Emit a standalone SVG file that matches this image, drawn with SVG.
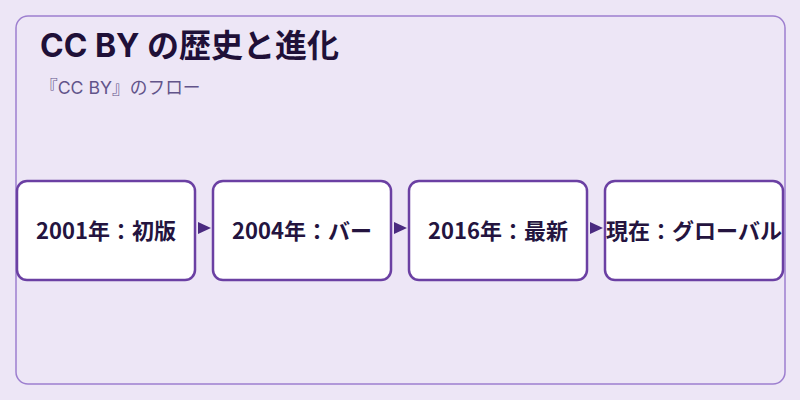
<svg xmlns="http://www.w3.org/2000/svg" width="800" height="400" viewBox="0 0 800 400">
<style>
.node rect{fill:#ffffff;stroke:#6b40a3;stroke-width:2.5}
.node text{font-family:"Noto Sans CJK JP","Noto Sans",sans-serif;font-size:22px;font-weight:700;fill:#24143f;text-anchor:middle}
.edge{stroke:#4a2a80;stroke-width:1;fill:none}
</style>
<defs>
<marker id="arr" viewBox="0 0 13 12" refX="13" refY="6" markerWidth="13" markerHeight="12" markerUnits="userSpaceOnUse" orient="auto">
<path d="M0,0 L13,6 L0,12 z" fill="#4a2a80"/>
</marker>
</defs>
<rect x="0" y="0" width="800" height="400" fill="#ede6f6"/>
<rect x="16" y="16" width="769" height="368" rx="12" fill="none" stroke="#9d7fcf" stroke-width="1.5"/>
<text x="40" y="57" font-family="Inter,'Noto Sans CJK JP',sans-serif" font-size="32" font-weight="700" fill="#1f1038">CC BY の歴史と進化</text>
<text x="40" y="94" font-family="Inter,'Noto Sans CJK JP',sans-serif" font-size="17.7" fill="#62548a">『CC BY』のフロー</text>
<g id="connectors">
<line class="edge" x1="198" y1="228" x2="211" y2="228" stroke-opacity="0" marker-end="url(#arr)"/>
<line class="edge" x1="394" y1="228" x2="407" y2="228" stroke-opacity="0" marker-end="url(#arr)"/>
<line class="edge" x1="590" y1="228" x2="603" y2="228" stroke-opacity="0" marker-end="url(#arr)"/>
</g>
<g id="node1" class="node"><rect x="17" y="181" width="178" height="99" rx="10"/><text x="106" y="239">2001年：初版</text></g>
<g id="node2" class="node"><rect x="213" y="181" width="178" height="99" rx="10"/><text x="302" y="239">2004年：バー</text></g>
<g id="node3" class="node"><rect x="409" y="181" width="178" height="99" rx="10"/><text x="498" y="239">2016年：最新</text></g>
<g id="node4" class="node"><rect x="605" y="181" width="178" height="99" rx="10"/><text x="694" y="239">現在：グローバル</text></g>
</svg>
